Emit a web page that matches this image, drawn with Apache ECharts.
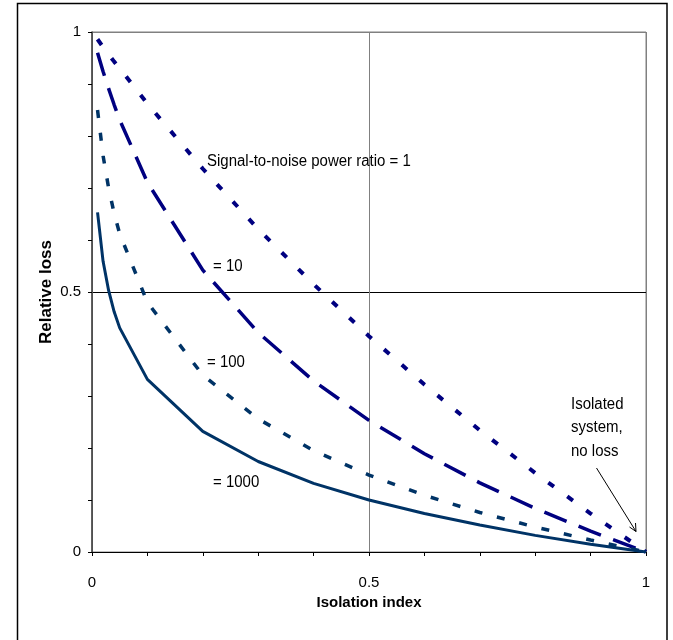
<!DOCTYPE html>
<html>
<head>
<meta charset="utf-8">
<script src="https://cdn.jsdelivr.net/npm/echarts@6/dist/echarts.min.js"></script>
<style>
  html, body { margin: 0; padding: 0; background: #fff; }
  #chart { width: 673px; height: 640px; }
</style>
</head>
<body>
<div id="chart"></div>
<script>
// Isolation index (x) sample points
const isolationIndex = [0.01, 0.02, 0.03, 0.04, 0.05, 0.1, 0.2, 0.3, 0.4, 0.5, 0.6, 0.7, 0.8, 0.9, 1.0];
// Relative loss for each signal-to-noise power ratio
const lossSnr1    = [0.986, 0.971, 0.957, 0.943, 0.930, 0.862, 0.737, 0.621, 0.515, 0.415, 0.322, 0.234, 0.152, 0.074, 0];
const lossSnr10   = [0.960, 0.924, 0.891, 0.860, 0.831, 0.711, 0.542, 0.422, 0.329, 0.253, 0.189, 0.133, 0.084, 0.040, 0];
const lossSnr100  = [0.850, 0.762, 0.700, 0.651, 0.612, 0.480, 0.340, 0.256, 0.195, 0.148, 0.109, 0.076, 0.048, 0.023, 0];
const lossSnr1000 = [0.653, 0.559, 0.503, 0.462, 0.431, 0.332, 0.232, 0.174, 0.132, 0.100, 0.074, 0.052, 0.032, 0.015, 0];
const axisTickLabels = ['0', '0.5', '1'];

const FONT = "'Liberation Sans', Arial, sans-serif";

function pairs(ys) {
  return isolationIndex.map((x, i) => [x, ys[i]]);
}
function tickLabel(v) {
  const s = String(Math.round(v * 10) / 10);
  return axisTickLabels.indexOf(s) >= 0 ? s : '';
}
function note(text, x, y, lineHeight) {
  const style = { text: text, font: '15px ' + FONT, fill: '#000', verticalAlign: 'middle' };
  if (lineHeight) style.lineHeight = lineHeight;
  return { type: 'text', x: x, y: y, z: 100, scaleY: 1.15, style: style };
}

const chart = echarts.init(document.getElementById('chart'), null, { renderer: 'canvas' });

const option = {
  animation: false,
  backgroundColor: '#fff',
  grid: {
    left: 92, right: 27, top: 32, bottom: 88,
    show: true, borderColor: '#808080', borderWidth: 1, backgroundColor: 'transparent'
  },
  xAxis: {
    type: 'value', min: 0, max: 1, interval: 0.5,
    name: 'Isolation index', nameLocation: 'middle', nameGap: 43,
    nameTextStyle: { fontFamily: FONT, fontSize: 15, fontWeight: 'bold', color: '#000' },
    axisLine: { show: true, lineStyle: { color: '#000', width: 1 } },
    axisTick: { show: true, inside: false, length: 4, lineStyle: { color: '#000' } },
    minorTick: { show: true, splitNumber: 5, length: 4, lineStyle: { color: '#000' } },
    axisLabel: { fontFamily: FONT, fontSize: 15, color: '#000', margin: 23, formatter: tickLabel },
    splitLine: { show: true, lineStyle: { color: '#808080', width: 1 } }
  },
  yAxis: {
    type: 'value', min: 0, max: 1, interval: 0.5,
    name: 'Relative loss', nameLocation: 'middle', nameGap: 37, nameRotate: 90,
    nameMoveOverlap: false,
    nameTextStyle: { fontFamily: FONT, fontSize: 17, fontWeight: 'bold', color: '#000' },
    axisLine: { show: true, lineStyle: { color: '#404040', width: 1.5 } },
    axisTick: { show: true, inside: false, length: 4, lineStyle: { color: '#000' } },
    minorTick: { show: true, splitNumber: 5, length: 4, lineStyle: { color: '#000' } },
    axisLabel: { fontFamily: FONT, fontSize: 15, color: '#000', margin: 11, formatter: tickLabel },
    splitLine: { show: true, lineStyle: { color: ['#000', '#000', '#808080'], width: 1 } }
  },
  series: [
    {
      name: 'SNR 1', type: 'line', data: pairs(lossSnr1), showSymbol: false, symbol: 'none',
      lineStyle: { color: '#000080', width: 4, type: [7, 16.5], cap: 'butt' }
    },
    {
      name: 'SNR 10', type: 'line', data: pairs(lossSnr10), showSymbol: false, symbol: 'none',
      lineStyle: { color: '#000080', width: 3.5, type: [24, 13], cap: 'butt' }
    },
    {
      name: 'SNR 100', type: 'line', data: pairs(lossSnr100), showSymbol: false, symbol: 'none',
      lineStyle: { color: '#003366', width: 3.5, type: [8, 15], cap: 'butt' }
    },
    {
      name: 'SNR 1000', type: 'line', data: pairs(lossSnr1000), showSymbol: false, symbol: 'none',
      lineStyle: { color: '#003366', width: 3, type: 'solid' }
    }
  ],
  graphic: [
    { type: 'rect', silent: true, z: 100,
      shape: { x: 17.5, y: 3.5, width: 649.5, height: 700 },
      style: { fill: 'none', stroke: '#000', lineWidth: 1.5 } },
    note('Signal-to-noise power ratio = 1', 207, 161),
    note('= 10', 213, 266),
    note('= 100', 207, 362),
    note('= 1000', 213, 482),
    note('Isolated\nsystem,\nno loss', 571, 427.5, 20.5),
    { type: 'line', z: 100, shape: { x1: 596.5, y1: 468, x2: 636, y2: 531.5 },
      style: { stroke: '#000', lineWidth: 1 } },
    { type: 'polyline', z: 100, shape: { points: [[629.5, 527], [636, 531.5], [635.5, 523]] },
      style: { stroke: '#000', lineWidth: 1, fill: 'none' } }
  ]
};

chart.setOption(option);
</script>
</body>
</html>
